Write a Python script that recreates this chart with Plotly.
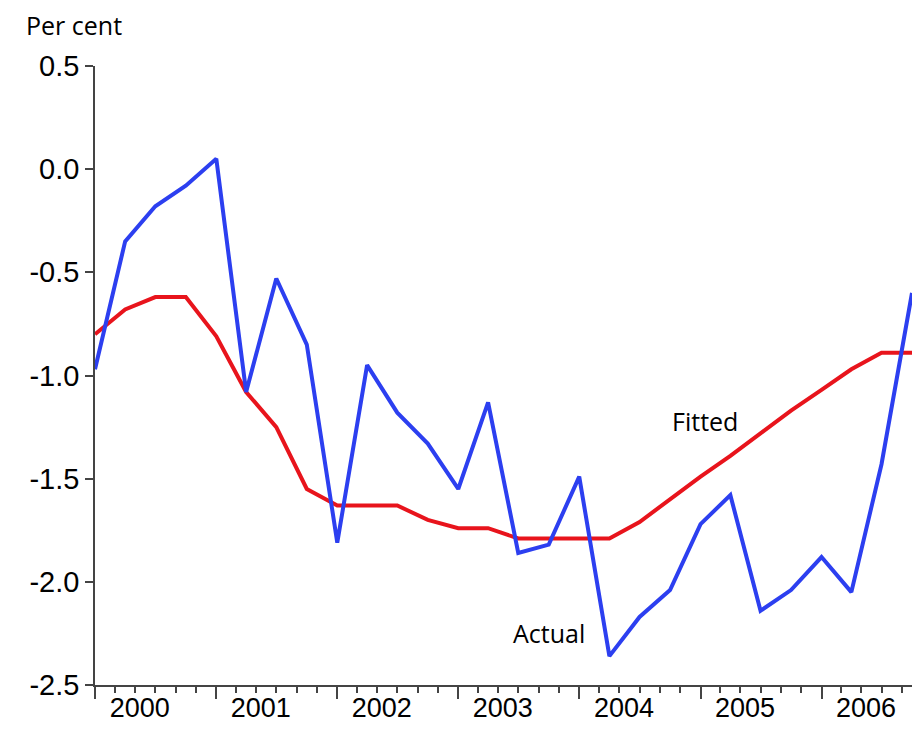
import plotly.graph_objects as go

quarters = [
    "2000-01-01", "2000-04-01", "2000-07-01", "2000-10-01",
    "2001-01-01", "2001-04-01", "2001-07-01", "2001-10-01",
    "2002-01-01", "2002-04-01", "2002-07-01", "2002-10-01",
    "2003-01-01", "2003-04-01", "2003-07-01", "2003-10-01",
    "2004-01-01", "2004-04-01", "2004-07-01", "2004-10-01",
    "2005-01-01", "2005-04-01", "2005-07-01", "2005-10-01",
    "2006-01-01", "2006-04-01", "2006-07-01", "2006-10-01",
]
actual = [-0.97, -0.35, -0.18, -0.08, 0.05, -1.08, -0.53, -0.85,
          -1.81, -0.95, -1.18, -1.33, -1.55, -1.13, -1.86, -1.82,
          -1.49, -2.36, -2.17, -2.04, -1.72, -1.58, -2.14, -2.04,
          -1.88, -2.05, -1.43, -0.60]
fitted = [-0.80, -0.68, -0.62, -0.62, -0.81, -1.08, -1.25, -1.55,
          -1.63, -1.63, -1.63, -1.70, -1.74, -1.74, -1.79, -1.79,
          -1.79, -1.79, -1.71, -1.60, -1.49, -1.39, -1.28, -1.17,
          -1.07, -0.97, -0.89, -0.89]
years = ["2000", "2001", "2002", "2003", "2004", "2005", "2006"]
y_ticks = [0.5, 0.0, -0.5, -1.0, -1.5, -2.0, -2.5]
y_labels = ["0.5", "0.0", "-0.5", "-1.0", "-1.5", "-2.0", "-2.5"]

xrange = ["2000-01-01", "2006-10-01"]
fig = go.Figure()
fig.add_trace(go.Scatter(x=quarters, y=fitted, mode="lines",
                         line=dict(color="#e8141c", width=4)))
fig.add_trace(go.Scatter(x=quarters, y=actual, mode="lines",
                         line=dict(color="#2c3ff0", width=4)))
# invisible trace so the label axis is drawn
fig.add_trace(go.Scatter(x=quarters, y=actual, xaxis="x2", mode="lines",
                         line=dict(width=0), hoverinfo="skip", opacity=0))

font = "Liberation Sans, Arial, sans-serif"
fig.update_layout(
    width=904, height=722, showlegend=False,
    paper_bgcolor="white", plot_bgcolor="white",
    margin=dict(l=87, r=0, t=58, b=45),
    font=dict(family=font, size=29, color="black"),
    xaxis=dict(type="date", range=xrange, automargin=False,
               tickvals=[y + "-01-01" for y in years], ticktext=["" for y in years],
               ticks="outside", ticklen=12, tickcolor="#444", tickwidth=1.5,
               showline=True, linecolor="#444", linewidth=1.5,
               showgrid=False, zeroline=False,
               minor=dict(dtick="M2", tick0="2000-01-01", ticks="outside",
                          ticklen=6, tickcolor="#444")),
    xaxis2=dict(type="date", range=xrange, overlaying="x", side="bottom",
                automargin=False, tickvals=[y + "-05-15" for y in years],
                ticktext=years, ticks="", showgrid=False, zeroline=False,
                showline=False, tickfont=dict(size=27), ticklabelstandoff=4),
    yaxis=dict(range=[-2.5, 0.5], tickvals=y_ticks, ticktext=y_labels,
               automargin=False, ticks="outside", ticklen=8, tickcolor="#444",
               tickwidth=1.5, showline=True, linecolor="#444", linewidth=1.5,
               showgrid=False, zeroline=False),
    annotations=[
        dict(text="Per cent", xref="paper", yref="paper", x=-0.087, y=1.036,
             xanchor="left", yanchor="bottom", showarrow=False,
             font=dict(family="Open Sans, sans-serif", size=25)),
        dict(text="Fitted", x="2005-01-15", y=-1.22, showarrow=False,
             font=dict(family="Open Sans, sans-serif", size=25)),
        dict(text="Actual", x="2003-10-01", y=-2.25, showarrow=False,
             font=dict(family="Open Sans, sans-serif", size=25)),
    ],
)
fig.write_html("out.html")
